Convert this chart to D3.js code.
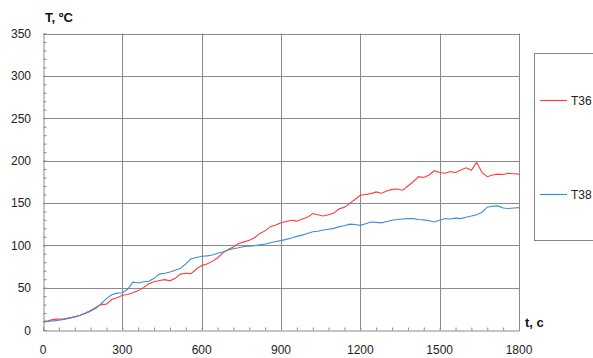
<!DOCTYPE html>
<html><head><meta charset="utf-8">
<script src="https://cdn.jsdelivr.net/npm/d3@7"></script>
<style>body{margin:0;background:#fff;} svg{display:block;}</style>
</head><body>
<svg id="c" width="593" height="358"></svg>
<script>
const timeStep = 20;
const seriesNames = ["T36", "T38"];
const seriesColors = ["#ff3c3c", "#3d8ed6"];
const t36 = [10,10.8,12.5,12.8,13.2,14.3,15.5,17.5,20,23,26.5,30,30.5,36,38,41,42,44,46.5,50,54.5,57,58.5,59.5,58,61,66,67,66.5,72,76,78,81,85,91,95,98,102,104,106,109,114,117,122,124,126.5,128,129.5,128.5,131,133,137.5,136,134.5,136,138,143,145,149.5,154,159,160,161,163,161.5,164,166,166.5,165,170,175,181,180,183,188,186,185,187,186,189,191.5,188.5,198,186,181,183,184,183.5,185,184.5,184];
const t38 = [10,10.3,10.8,11.5,12.5,14,15.5,17.2,19.5,22,25.5,31,37,41.5,43.5,44,48,56.5,55.5,57,57.5,61,66,67,68.5,70.5,73,78,84,85.5,87,87.5,88.5,90.5,92,94.5,96,97,98.5,99,99.5,100.5,101.5,103,104.5,105.5,107,108.5,110.5,112,114,116,116.5,118,119,120,122,123,125,124.5,123.5,125.5,127.5,127,126.5,128,129.5,130.5,131,131.5,131.5,130.5,130,129,127.5,129.5,131.5,131,132,131.5,133,134.5,136,139,145,146,146.5,144,143.5,144,144.5];
const xTicks = [0,300,600,900,1200,1500,1800];
const yTicks = [0,50,100,150,200,250,300,350];
const xMinor = d3.range(0,1801,60);
const yMinor = d3.range(0,351,10);

const svg = d3.select("#c");
const x = d3.scaleLinear().domain([0,1800]).range([43,519]);
const y = d3.scaleLinear().domain([0,350]).range([330,33.5]);
const font = "'Liberation Sans', Arial, sans-serif";
const grid = "#8a8a8a";

// grid
svg.append("g").selectAll("line").data(yTicks.slice(1)).join("line")
  .attr("x1",x(0)).attr("x2",x(1800)).attr("y1",d=>Math.round(y(d))+0.5).attr("y2",d=>Math.round(y(d))+0.5)
  .attr("stroke",grid).attr("stroke-width",1);
svg.append("g").selectAll("line").data(xTicks.slice(1)).join("line")
  .attr("y1",y(0)).attr("y2",y(350)).attr("x1",d=>Math.round(x(d))+0.5).attr("x2",d=>Math.round(x(d))+0.5)
  .attr("stroke",grid).attr("stroke-width",1);

// axes
const xAxis = d3.axisBottom(x).tickValues(xMinor).tickSize(-3).tickFormat("");
const gx = svg.append("g").attr("transform",`translate(0,${Math.round(y(0))+0.5})`).call(xAxis);
gx.select(".domain").attr("stroke",grid);
gx.selectAll(".tick line").attr("stroke",grid);
const yAxis = d3.axisLeft(y).tickValues(yMinor).tickSize(-3).tickFormat("");
const gy = svg.append("g").attr("transform",`translate(${Math.round(x(0))+0.5},0)`).call(yAxis);
gy.select(".domain").attr("stroke",grid);
gy.selectAll(".tick line").attr("stroke",grid);

// tick labels
svg.append("g").selectAll("text").data(xTicks).join("text")
  .attr("x",d=>x(d)).attr("y",354).attr("text-anchor","middle")
  .attr("font-family",font).attr("font-size",12).attr("fill","#222").text(d=>d);
svg.append("g").selectAll("text").data(yTicks).join("text")
  .attr("x",31).attr("y",d=>y(d)+4.5).attr("text-anchor","end")
  .attr("font-family",font).attr("font-size",12).attr("fill","#222").text(d=>d);

// titles
svg.append("text").attr("x",45).attr("y",22).attr("font-family",font).attr("font-size",13)
  .attr("font-weight","bold").attr("fill","#111").text("T, ºC");
svg.append("text").attr("x",525).attr("y",327).attr("font-family",font).attr("font-size",13)
  .attr("font-weight","bold").attr("fill","#111").text("t, c");

// lines
const line = d3.line().x((d,i)=>x(i*timeStep)).y(d=>y(d));
[t36,t38].forEach((s,k)=>{
  svg.append("path").datum(s).attr("d",line).attr("fill","none")
    .attr("stroke",seriesColors[k]).attr("stroke-width",1.1);
});

// legend
svg.append("rect").attr("x",534.5).attr("y",53.5).attr("width",70).attr("height",187)
  .attr("fill","none").attr("stroke","#888");
const legY = [100.5,194.5];
seriesNames.forEach((n,k)=>{
  svg.append("line").attr("x1",540).attr("x2",567).attr("y1",legY[k]).attr("y2",legY[k])
    .attr("stroke",seriesColors[k]).attr("stroke-width",1.2);
  svg.append("text").attr("x",571).attr("y",legY[k]+4.5).attr("font-family",font).attr("font-size",12)
    .attr("fill","#222").text(n);
});
</script>
</body></html>
